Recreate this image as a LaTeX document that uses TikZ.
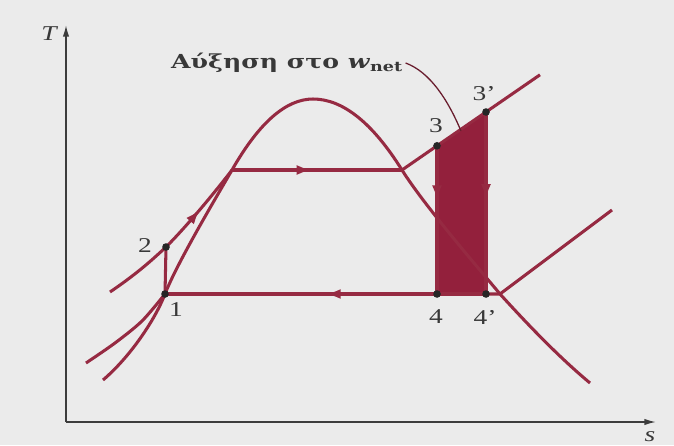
\documentclass[tikz,border=0pt]{standalone}
\usepackage{fontspec}
\setmainfont{Liberation Serif}
\newfontfamily\greekfont{DejaVu Serif}
\usepackage{graphicx}
\usetikzlibrary{arrows.meta, decorations.markings}
\definecolor{dwine}{HTML}{962A42}
\definecolor{dfill}{HTML}{93203C}
\definecolor{dgray}{HTML}{3C3C3C}
\definecolor{lpaper}{HTML}{EBEBEB}
\newcommand{\wide}[1]{\scalebox{1.3}[1]{#1}}

\begin{document}
\begin{tikzpicture}[x=0.03cm, y=-0.03cm,
    curve/.style={draw=dwine, line width=2.6pt, line join=round},
    flow/.style={postaction={decorate}, decoration={markings, mark=at position #1 with {\arrow[dwine]{Latex[length=13pt, width=8.5pt]}}}},
    axis/.style={draw=dgray, line width=1.3pt, -{Latex[length=10pt, width=5.5pt]}},
    dot/.style={circle, fill=black!85, inner sep=0pt, minimum size=6.5pt},
    lbl/.style={font=\fontsize{18}{21}\selectfont, text=black!78, inner sep=0pt},
    lead/.style={draw=dwine!70!black, line width=1.1pt},
]

% Paper
\fill[lpaper] (0,0) rectangle (674,445);
\useasboundingbox (0,0) rectangle (674,445);

% Axes
\coordinate (O) at (66,422);
\coordinate (Ttop) at (66,25);
\coordinate (Send) at (656,422);
\draw[axis] (O) -- (Ttop);
\draw[axis] (O) -- (Send);
\node[lbl, font=\fontsize{18}{21}\selectfont\itshape] (Tlab) at (49,34) {\wide{T}};
\node[lbl, font=\fontsize{18}{21}\selectfont\itshape] (slab) at (650,437) {\wide{s}};

% State points
\coordinate (s1) at (165,294);
\coordinate (s2) at (166,247);
\coordinate (s3) at (437,145.8);
\coordinate (s3p) at (486,112);
\coordinate (s4) at (437,294);
\coordinate (s4p) at (486,294);

% Corners on the isobars
\coordinate (f) at (232,170);
\coordinate (g) at (402,170);
\coordinate (top) at (313,99);
\coordinate (hi) at (540,74.8);
\coordinate (c) at (500,294);
\coordinate (lo) at (612,210);

% Shaded gain
\fill[dfill] (s3) -- (s3p) -- (s4p) -- (s4) -- cycle;

% Saturation dome
\draw[curve] (103,380) .. controls (130,357) and (155,320) .. (s1)
  .. controls (177,263) and (217,196) .. (f)
  .. controls (259,122.7) and (286,99) .. (top)
  .. controls (342.7,99) and (372.4,122.7) .. (g)
  .. controls (424,205) and (475,264) .. (c)
  .. controls (530,327) and (560,358) .. (590,383);

% Isobars
\draw[curve] plot[smooth] coordinates {(86,363) (115,343) (142,321) (s1)};
\draw[curve] (110,292) .. controls (135,275) and (150,262) .. (s2);
\draw[curve, flow=0.5] (s2) .. controls (185,228) and (212,196) .. (f);
\draw[curve, flow=0.47] (f) -- (g);
\draw[curve] (g) -- (s3) -- (s3p) -- (hi);
\draw[curve] (lo) -- (c) -- (s4p);

% Cycle
\draw[curve] (s1) -- (s2);
\draw[curve, flow=0.37] (s3) -- (s4);
\draw[curve, flow=0.48] (s3p) -- (s4p);
\draw[curve, flow=0.5] (s4p) -- (s1);

% Dots
\node[dot] (d1) at (s1) {};
\node[dot] (d2) at (s2) {};
\node[dot] (d3) at (s3) {};
\node[dot] (d3p) at (s3p) {};
\node[dot] (d4) at (s4) {};
\node[dot] (d4p) at (s4p) {};

% Labels
\node[lbl] (l1) at (176,310) {\wide{1}};
\node[lbl] (l2) at (145,246) {\wide{2}};
\node[lbl] (l3) at (436,126) {\wide{3}};
\node[lbl] (l3p) at (484,94) {\wide{3'}};
\node[lbl] (l4) at (436,317) {\wide{4}};
\node[lbl] (l4p) at (485,317) {\wide{4'}};

% Note
\node[lbl, anchor=west, font=\greekfont\fontsize{16.5}{19}\selectfont\bfseries] (gain) at (171,63) {\wide{Αύξηση στο \textit{w}\textsubscript{net}}};
\coordinate (wend) at (461,131);
\draw[lead] ([xshift=2pt]gain.east) .. controls (430,72) and (448,100) .. (wend);

\end{tikzpicture}
\end{document}
